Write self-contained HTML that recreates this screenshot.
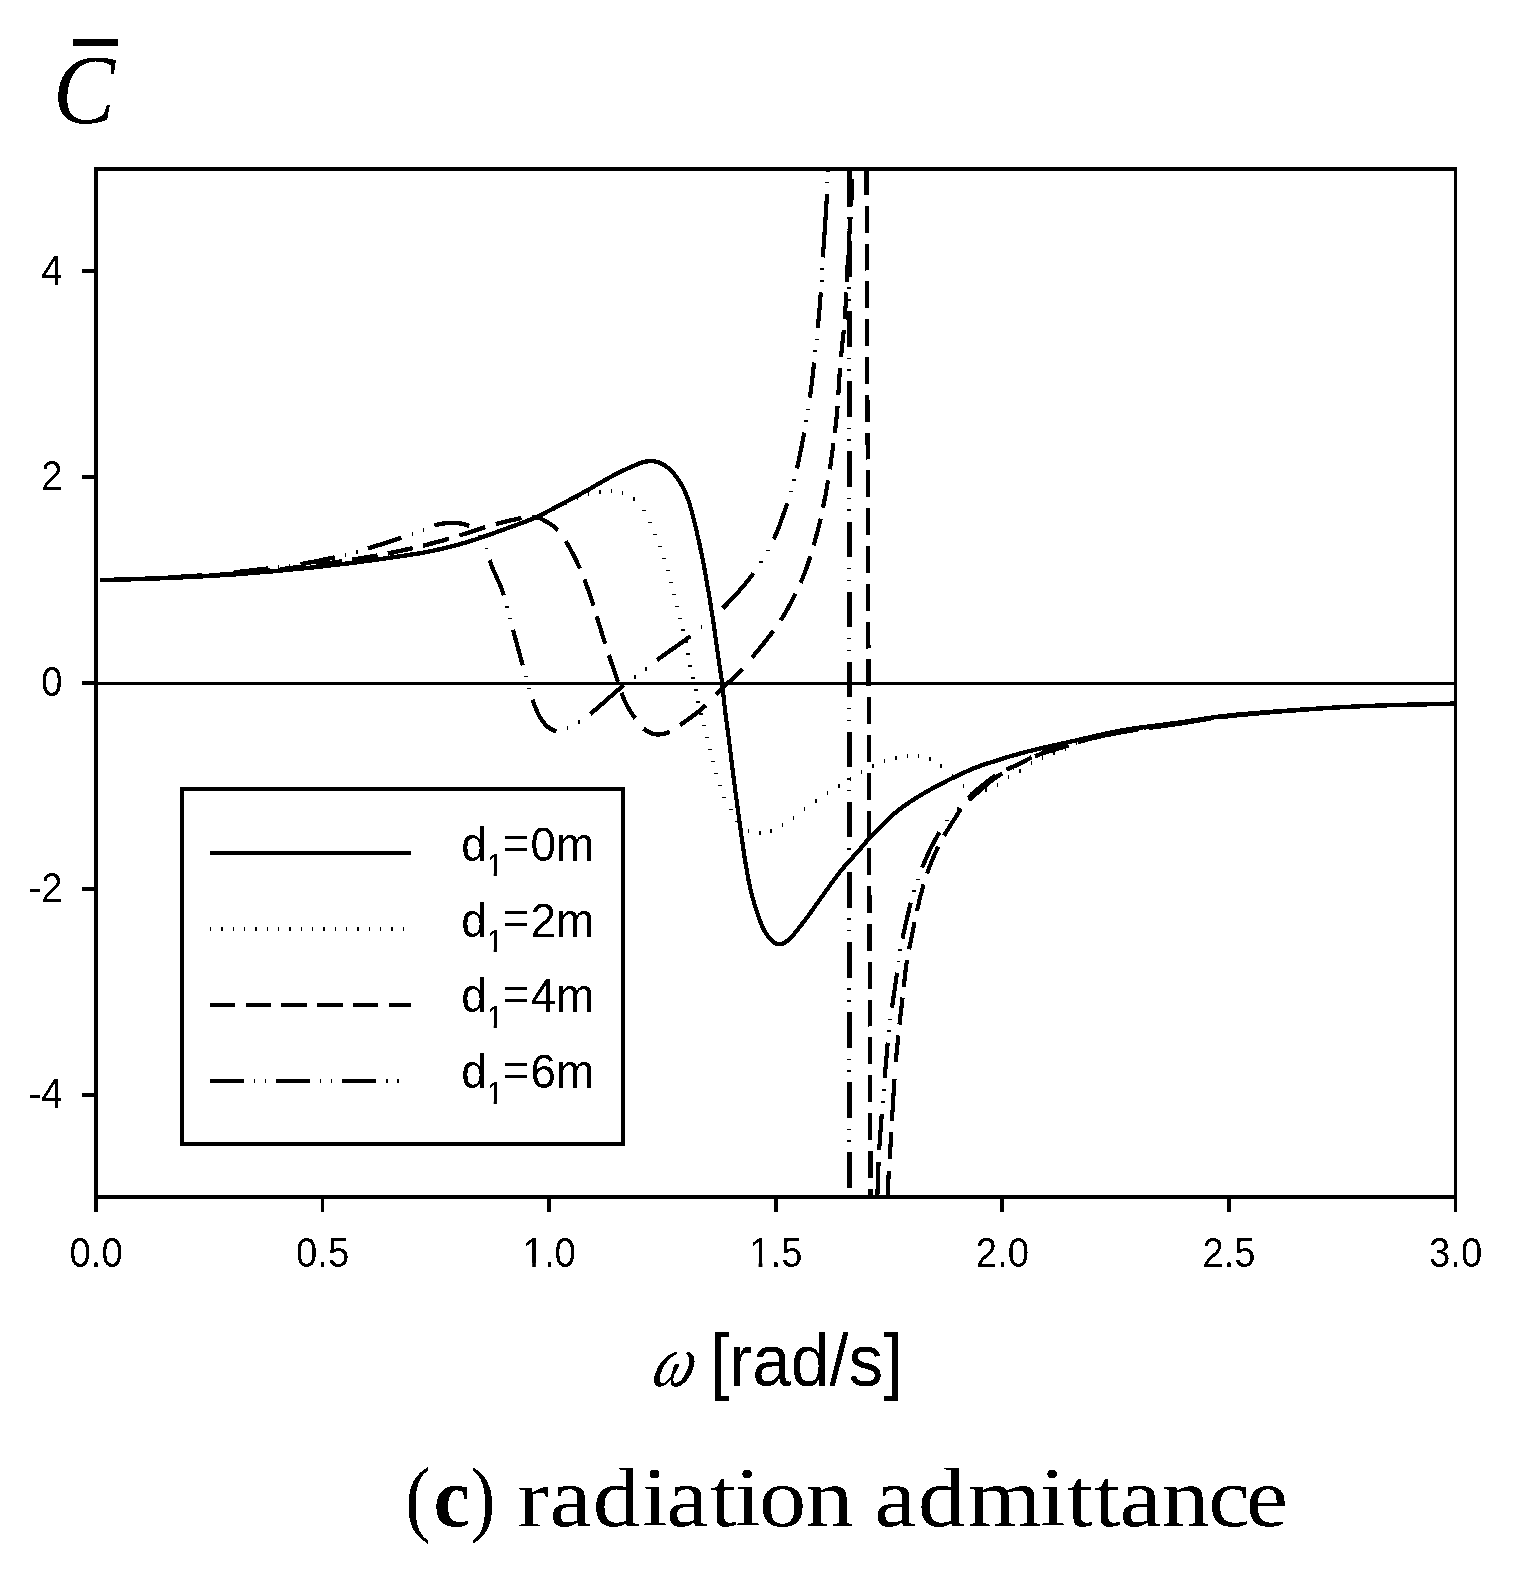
<!DOCTYPE html>
<html lang="en"><head><meta charset="utf-8"><title>(c) radiation admittance</title>
<style>html,body{margin:0;padding:0;background:#fff}svg{display:block}.sans{font-family:"Liberation Sans",Arial,Helvetica,sans-serif}.serif{font-family:"Liberation Serif","Times New Roman",serif}</style></head><body>
<svg width="1528" height="1581" viewBox="0 0 1528 1581">
<rect width="1528" height="1581" fill="#fff"/>
<defs><filter id="bw" x="0" y="0" width="1528" height="1581" filterUnits="userSpaceOnUse" color-interpolation-filters="sRGB"><feComponentTransfer><feFuncA type="discrete" tableValues="0 1"/></feComponentTransfer></filter><clipPath id="plot"><rect x="101.59" y="169.0" width="1438.62" height="1028.0"/></clipPath></defs>
<g filter="url(#bw)">
<g transform="scale(0.945,1)">
<g clip-path="url(#plot)" fill="none" stroke="#000" stroke-width="4.4" stroke-linejoin="round" shape-rendering="crispEdges">
<path d="M105.8 580.2L157.8 578.8L203.8 576.9L245.7 574.6L288.6 571.3L334.4 567.1L376.1 562.5L401.9 559.2L432.6 555.0L446.5 552.9L458.3 550.7L469.1 548.5L480.7 545.7L492.4 542.7L502.9 539.6L518.1 534.7L556.9 521.3L564.4 518.5L575.3 513.6L612.0 495.3L623.5 489.2L643.7 478.2L652.6 473.7L665.4 467.9L675.6 463.8L679.4 462.5L683.3 461.6L686.3 461.1L689.3 461.0L692.3 461.2L695.2 461.9L698.1 462.8L700.9 464.0L703.5 465.5L706.8 467.8L709.9 470.4L712.7 473.3L715.3 476.3L717.8 479.5L720.0 482.8L722.6 487.1L726.1 494.3L729.0 501.7L731.9 511.3L736.1 526.8L740.5 545.2L744.7 564.8L750.4 595.3L754.9 621.9L760.6 660.5L764.1 682.2L767.2 710.0L771.2 738.7L777.2 784.4L784.0 831.9L788.1 858.6L791.9 879.2L794.8 891.9L798.4 904.4L802.9 917.6L806.9 926.9L808.7 930.4L810.8 933.7L813.2 936.9L815.3 939.2L817.6 941.4L820.1 943.1L822.0 943.9L823.9 944.2L826.8 943.9L828.8 943.3L830.6 942.4L832.4 941.3L834.9 939.5L838.5 936.1L846.3 927.0L854.5 916.9L879.8 883.3L886.6 874.7L892.4 867.8L897.1 862.7L908.3 851.2L917.6 840.7L921.7 836.4L939.2 819.9L946.7 813.3L953.9 807.9L963.0 801.8L974.2 795.2L987.4 788.1L1002.7 780.5L1018.1 773.4L1029.2 768.8L1040.5 764.8L1066.4 757.0L1087.7 751.4L1104.2 747.7L1138.5 740.5L1163.9 734.9L1175.6 732.5L1188.4 730.2L1202.3 728.1L1247.0 722.7L1276.7 718.4L1288.5 716.8L1308.4 714.7L1333.4 712.7L1380.3 709.4L1416.2 707.3L1444.2 706.1L1474.2 705.1L1555.6 703.3"/>
<path stroke-width="1.4" d="M106.9 578.2v4M118.9 577.9v4M130.9 577.6v4M142.9 577.3v4M154.9 576.9v4M166.9 576.5v4M178.9 576.0v4M190.9 575.5v4M202.9 575.0v4M214.9 574.4v4M226.9 573.7v4M238.9 573.0v4M250.9 572.2v4M262.9 571.4v4M274.9 570.5v4M286.9 569.5v4M298.9 568.5v4M310.9 567.4v4M322.9 566.3v4M334.9 565.1v4M346.9 563.8v4M358.9 562.5v4M370.9 561.1v4M382.9 559.6v4M394.9 558.1v4M406.9 556.5v4M418.9 554.9v4M430.9 553.2v4M442.9 551.4v4M454.9 549.4v4M466.9 547.0v4M478.9 544.2v4M490.9 541.1v4M502.9 537.6v4M514.9 533.8v4M526.9 529.6v4M538.9 525.4v4M550.9 521.3v4M562.9 517.0v4M574.9 512.0v4M586.9 506.5v4M598.9 501.1v4M610.9 496.3v4M622.9 492.4v4M634.9 489.7v4M646.9 488.9v4M658.9 491.1v4M670.8 497.1v4M678.9 510.7h4.2M686.0 522.6h4.2M691.5 534.5h4.2M696.2 546.4h4.2M700.5 558.4h4.2M704.7 570.3h4.2M707.8 582.3h4.2M711.3 594.2h4.2M714.4 606.2h4.2M717.6 618.2h4.2M721.0 630.1h4.2M723.6 642.1h4.2M725.9 654.1h4.2M728.4 666.0h4.2M731.4 678.0h4.2M734.6 689.9h4.2M736.9 701.8h4.2M739.8 713.8h4.2M742.4 725.7h4.2M745.6 737.6h4.2M748.8 749.5h4.2M752.0 761.5h4.2M755.5 773.5h4.2M759.7 785.5h4.2M764.4 797.5h4.2M771.0 809.6h4.2M778.3 821.6h4.2M792.1 828.7v4M804.1 830.7v4M816.0 828.6v4M827.8 823.0v4M839.7 815.6v4M851.6 807.3v4M863.5 799.0v4M875.6 791.2v4M887.7 783.7v4M899.7 776.8v4M911.8 769.9v4M923.9 764.0v4M936.0 759.1v4M948.1 755.7v4M960.2 753.5v4M972.2 753.7v4M984.1 756.9v4M995.9 764.0v4M1007.7 774.2v4M1019.5 784.3v4M1031.5 789.6v4M1043.4 787.7v4M1055.4 782.7v4M1067.3 774.8v4M1079.3 768.6v4M1091.4 761.4v4M1103.4 756.0v4M1115.5 751.4v4M1127.5 747.2v4M1139.5 741.0v4M1151.5 736.6v4M1163.5 734.3v4M1175.5 732.4v4M1187.5 730.3v4M1199.5 728.2v4M1211.5 726.3v4M1223.5 724.8v4M1235.5 723.4v4M1247.5 721.9v4M1259.5 720.0v4M1271.5 718.0v4M1283.5 716.2v4M1295.5 714.6v4M1307.5 713.4v4M1319.5 712.2v4M1331.5 711.3v4M1343.5 710.3v4M1355.5 709.4v4M1367.5 708.5v4M1379.5 707.7v4M1391.5 706.8v4M1403.5 706.0v4M1415.5 705.4v4M1427.5 704.8v4M1439.5 704.2v4M1451.5 703.8v4M1463.5 703.4v4M1475.5 703.0v4M1487.5 702.7v4M1499.5 702.4v4M1511.5 702.2v4M1523.5 701.9v4M1535.5 701.7v4M1547.5 701.5v4"/>
<path d="M108.0 580.1L134.9 579.4M145.8 579.0L172.7 578.0M183.6 577.5L210.5 576.1M221.4 575.5L248.3 573.6M259.2 572.7L286.1 570.3M297.0 569.2L323.9 566.2M334.8 564.9L361.7 561.4M372.6 559.8L399.5 555.5M410.4 553.5L436.8 548.2M447.6 545.7L462.1 542.2L475.1 538.7M486.2 535.5L513.5 527.2M524.6 524.2L538.2 520.9L551.9 518.0M563.0 516.8L565.8 517.0L568.8 517.6L571.7 518.4L574.4 519.6L579.7 522.5L584.9 525.6L588.1 528.0L590.4 530.1M598.8 541.2L606.4 554.1L610.1 561.2L613.6 568.4M618.4 579.4L623.1 591.5L628.0 605.6M631.4 616.2L640.4 643.9M644.3 655.1L653.9 681.9M657.7 692.8L660.3 699.3L663.5 705.5L666.6 710.6L672.3 718.4M681.0 728.6L684.3 730.9L687.0 732.3L690.8 733.7L693.8 734.3L696.8 734.5L700.8 734.1L704.8 733.2L708.6 731.8M719.7 725.1L736.3 713.8L741.9 709.6L746.9 705.3M757.8 694.4L763.6 688.9L778.6 675.7L785.7 668.9M795.8 657.6L810.2 641.0L818.3 631.1M826.1 620.4L829.9 614.5L834.1 607.7L841.8 593.8M847.2 583.0L852.7 570.1L857.6 556.3M861.1 545.4L864.9 532.0L868.4 518.6M870.9 507.7L873.8 494.0L876.3 480.4M878.2 469.4L882.0 443.3M883.4 432.8L885.2 417.9L886.4 405.9M887.1 395.0L888.9 368.1M889.9 357.2L892.9 330.3M893.9 319.4L895.7 292.5M896.2 281.6L897.4 254.7M898.1 243.8L900.1 216.9M900.8 206.0L901.7 179.1M901.9 168.2L902.3 141.3M902.4 130.4L903.0 103.5"/>
<path d="M916.8 140.0L916.9 157.1M916.9 168.0L917.0 194.9M917.1 205.8L917.2 232.7M917.2 243.6L917.4 270.5M917.4 281.4L917.5 308.3M917.6 319.2L917.7 346.1M917.7 357.0L917.8 383.9M917.9 394.8L918.0 421.7M918.0 432.6L918.2 459.5M918.2 470.4L918.3 497.3M918.4 508.2L918.5 535.1M918.5 546.0L918.6 572.9M918.7 583.8L918.8 610.7M918.8 621.6L919.0 648.5M919.0 659.4L919.1 686.3M919.2 697.2L919.3 724.1M919.3 735.0L919.4 761.9M919.5 772.8L919.6 799.7M919.6 810.6L919.8 837.5M919.8 848.4L919.9 875.3M920.0 886.2L920.1 913.1M920.1 924.0L920.2 950.9M920.3 961.8L920.4 988.7M920.4 999.6L920.6 1026.5M920.6 1037.4L920.7 1064.3M920.8 1075.2L920.9 1102.1M920.9 1113.0L921.0 1139.9M921.1 1150.8L921.2 1177.7M921.2 1188.6L921.3 1215.5M921.4 1226.4L921.4 1230.0"/>
<path d="M941.5 1159.1L943.2 1132.1M943.8 1121.1L946.5 1079.3M947.9 1062.3L950.6 1035.4M951.8 1024.5L955.1 997.6M956.4 986.8L958.2 970.9L959.8 960.0M962.0 949.2L967.9 922.1M970.3 911.1L973.6 897.5L977.4 884.4M981.0 873.6L983.5 867.1L986.6 859.7L992.8 846.6M999.0 835.7L1003.3 829.0L1017.0 808.7M1024.9 797.7L1028.4 794.2L1032.2 791.0L1048.4 778.9L1053.2 775.5M1064.8 769.6L1078.7 764.0L1091.7 757.3M1102.6 752.8L1110.8 750.4L1129.5 745.6M1140.4 742.2L1152.3 739.0L1167.3 735.8M1178.2 733.7L1191.6 731.3L1205.1 729.2M1216.0 727.8L1242.9 724.5M1253.8 722.9L1280.7 718.6M1291.6 717.1L1304.5 715.7L1318.5 714.4M1329.4 713.4L1356.3 711.4M1367.2 710.6L1394.1 708.6M1405.0 708.0L1431.9 706.6M1442.8 706.1L1469.7 705.2M1480.6 704.9L1507.5 704.3M1518.4 704.0L1545.3 703.5"/>
<path d="M939.3 1197L940.5 1171.4"/>
<path d="M107.8 580.1L143.3 579.0M177.9 577.5L213.4 575.4M248.0 572.4L283.5 568.5M318.1 564.1L335.8 561.1L354.2 557.3M389.3 548.3L408.6 542.9L424.9 537.8M459.7 525.4L464.5 524.2L469.4 523.4L474.4 522.9L479.4 522.8L484.4 523.1L489.4 523.8L493.3 524.8L496.4 526.1M518.3 560.1L521.0 567.6L529.5 585.7L533.2 595.3M542.8 629.7L553.1 665.2M563.5 699.7L566.0 706.3L568.9 712.6L571.8 717.9L574.7 721.9L578.2 725.6L581.4 728.2L585.0 730.1L586.9 730.7L588.9 731.0M624.6 714.1L633.2 707.2L651.6 691.9L660.4 685.0M695.2 660.1L703.5 654.4L722.7 641.7L730.5 636.2M764.9 608.2L773.6 599.9L782.6 590.5L790.6 581.6L797.3 573.4M818.7 539.1L821.8 532.8L824.9 525.5L833.1 503.3M843.4 468.4L848.0 447.9L851.1 432.6M857.0 397.7L859.1 382.9L861.5 362.5M865.3 328.2L867.2 309.3L868.6 292.4M870.8 257.4L874.2 209.6L875.1 193.7"/><path stroke-width="1.4" d="M154.8 576.5v4M166.5 576.1v4M224.9 572.5v4M236.6 571.5v4M295.0 565.1v4M306.7 563.7v4M365.9 552.5v4M377.7 549.5v4M436.5 531.9v4M448.2 527.6v4M505.6 536.1h4.2M512.7 548.2h4.2M534.5 606.8h4.2M537.5 618.4h4.2M554.4 676.6h4.2M557.9 688.3h4.2M600.7 726.4v4M612.8 720.4v4M671.9 674.6v4M683.7 666.6v4M742.0 625.3v4M753.6 615.9v4M803.2 562.0h4.2M810.1 550.4h4.2M835.2 491.7h4.2M838.5 479.9h4.2M851.1 421.0h4.2M853.0 409.2h4.2M860.7 351.1h4.2M862.0 339.5h4.2M867.3 280.8h4.2M868.0 268.9h4.2M873.4 182.6h4.2M873.6 171.1h4.2"/>
<path d="M898.9 171.0L898.9 206.5M898.9 241.1L898.9 276.6M898.9 311.2L898.9 346.7M898.9 381.3L898.9 416.8M898.9 451.4L898.9 486.9M898.9 521.5L898.9 557.0M898.9 591.6L898.9 627.1M898.9 661.7L898.9 697.2M898.9 731.8L898.9 767.3M898.9 801.9L898.9 837.4M898.9 872.0L898.9 907.5M898.9 942.1L898.9 977.6M898.9 1012.2L898.9 1047.7M898.9 1082.3L898.9 1117.8M898.9 1152.4L898.9 1187.6"/><path stroke-width="1.4" d="M896.8 218.0h4.2M896.8 229.7h4.2M896.8 288.1h4.2M896.8 299.8h4.2M896.8 358.2h4.2M896.8 369.9h4.2M896.8 428.3h4.2M896.8 440.0h4.2M896.8 498.4h4.2M896.8 510.1h4.2M896.8 568.5h4.2M896.8 580.2h4.2M896.8 638.6h4.2M896.8 650.3h4.2M896.8 708.7h4.2M896.8 720.4h4.2M896.8 778.8h4.2M896.8 790.5h4.2M896.8 848.9h4.2M896.8 860.6h4.2M896.8 919.0h4.2M896.8 930.7h4.2M896.8 989.1h4.2M896.8 1000.8h4.2M896.8 1059.2h4.2M896.8 1070.9h4.2M896.8 1129.3h4.2M896.8 1141.0h4.2"/>
<path d="M930.3 1150.0L933.1 1113.7M936.1 1078.3L939.4 1042.6M943.9 1007.7L949.3 972.7M955.0 938.6L960.0 917.2L963.8 902.7M975.8 867.7L979.8 858.5L984.2 849.5L989.0 840.8L994.2 832.2M1025.2 800.1L1049.4 780.5L1055.2 776.5L1060.7 773.3M1095.3 756.4L1100.9 754.1L1106.6 752.3L1130.8 745.5M1165.4 736.1L1184.2 732.6L1200.9 729.9M1235.5 725.4L1250.5 723.4L1271.0 720.1M1305.6 715.6L1341.1 712.5M1375.7 709.9L1411.2 707.6M1445.8 706.0L1481.3 704.9M1515.9 704.1L1551.4 703.4"/><path stroke-width="1.4" d="M932.0 1101.9h4.2M933.0 1090.0h4.2M938.6 1031.0h4.2M940.1 1019.2h4.2M948.7 961.4h4.2M950.5 949.9h4.2M965.2 891.1h4.2M969.2 879.2h4.2M1000.4 820.7h4.2M1013.8 807.4v4M1072.2 766.1v4M1083.9 760.3v4M1142.3 739.7v4M1154.0 736.5v4M1212.4 726.2v4M1224.1 724.8v4M1282.5 716.3v4M1294.2 714.8v4M1352.6 709.7v4M1364.3 708.8v4M1422.7 705.0v4M1434.4 704.4v4M1492.8 702.6v4M1504.5 702.3v4"/>
<path d="M928.4 1197L929.7 1162"/>
</g>
<g fill="none" stroke="#000" shape-rendering="crispEdges">
<line x1="101.59" y1="683.6" x2="1540.21" y2="683.6" stroke-width="3"/>
<rect x="101.59" y="169.0" width="1438.62" height="1028.0" stroke-width="4"/>
<line x1="86.77" y1="271.4" x2="101.59" y2="271.4" stroke-width="4"/>
<line x1="86.77" y1="477.2" x2="101.59" y2="477.2" stroke-width="4"/>
<line x1="86.77" y1="683.0" x2="101.59" y2="683.0" stroke-width="4"/>
<line x1="86.77" y1="888.8" x2="101.59" y2="888.8" stroke-width="4"/>
<line x1="86.77" y1="1094.6" x2="101.59" y2="1094.6" stroke-width="4"/>
<line x1="101.59" y1="1197.0" x2="101.59" y2="1212.0" stroke-width="4"/>
<line x1="341.36" y1="1197.0" x2="341.36" y2="1212.0" stroke-width="4"/>
<line x1="581.13" y1="1197.0" x2="581.13" y2="1212.0" stroke-width="4"/>
<line x1="820.90" y1="1197.0" x2="820.90" y2="1212.0" stroke-width="4"/>
<line x1="1060.67" y1="1197.0" x2="1060.67" y2="1212.0" stroke-width="4"/>
<line x1="1300.44" y1="1197.0" x2="1300.44" y2="1212.0" stroke-width="4"/>
<line x1="1540.21" y1="1197.0" x2="1540.21" y2="1212.0" stroke-width="4"/>
<rect x="192.59" y="788.5" width="466.56" height="355.5" stroke-width="4"/>
</g>
<g fill="none" stroke="#000" stroke-width="4">
<line x1="222.22" y1="853" x2="434.92" y2="853"/>
<line x1="222.22" y1="929" x2="434.92" y2="929" stroke-dasharray="1.4 10.6"/>
<line x1="222.22" y1="1005" x2="434.92" y2="1005" stroke-dasharray="26.9 10.9"/>
<line x1="222.22" y1="1081" x2="431.75" y2="1081" stroke-dasharray="35.5 10.8 1.4 10.3 1.4 10.7"/>
</g>
<g class="sans" fill="#000">
<text x="488.04" y="860.7" font-size="48.5">d<tspan font-size="31.4" dy="15.8">1</tspan><tspan dx="-1" dy="-17.9">=</tspan><tspan dx="1.6" dy="2.1">0m</tspan></text>
<text x="488.04" y="936.6" font-size="48.5">d<tspan font-size="31.4" dy="15.8">1</tspan><tspan dx="-1" dy="-17.9">=</tspan><tspan dx="1.6" dy="2.1">2m</tspan></text>
<text x="488.04" y="1012.5" font-size="48.5">d<tspan font-size="31.4" dy="15.8">1</tspan><tspan dx="-1" dy="-17.9">=</tspan><tspan dx="1.6" dy="2.1">4m</tspan></text>
<text x="488.04" y="1088.4" font-size="48.5">d<tspan font-size="31.4" dy="15.8">1</tspan><tspan dx="-1" dy="-17.9">=</tspan><tspan dx="1.6" dy="2.1">6m</tspan></text>
<g transform="scale(0.969,1)" font-size="41.8">
<text x="68.36" y="284.6" text-anchor="end">4</text>
<text x="68.36" y="490.4" text-anchor="end">2</text>
<text x="68.36" y="696.2" text-anchor="end">0</text>
<text x="68.36" y="902.0" text-anchor="end">-2</text>
<text x="68.36" y="1107.8" text-anchor="end">-4</text>
<text x="104.95" y="1267" text-anchor="middle">0.0</text>
<text x="352.39" y="1267" text-anchor="middle">0.5</text>
<text x="599.83" y="1267" text-anchor="middle">1.0</text>
<text x="847.27" y="1267" text-anchor="middle">1.5</text>
<text x="1094.71" y="1267" text-anchor="middle">2.0</text>
<text x="1342.15" y="1267" text-anchor="middle">2.5</text>
<text x="1589.59" y="1267" text-anchor="middle">3.0</text>
</g>
<text x="751.32" y="1386" font-size="73.3">[rad/s]</text>
</g>
<g class="serif" fill="#000" font-style="italic">
<text transform="translate(685.19,1386.3) skewX(-24) scale(0.863,0.967)" font-size="76" font-style="normal">ω</text>
<text x="56.08" y="123.4" font-size="98.5">C</text>
</g>
<rect x="77.25" y="39" width="47.62" height="7" fill="#000" shape-rendering="crispEdges"/>
</g>
<g fill="#fff">
<rect x="487.5" y="873.0" width="6.2" height="3.8"/><rect x="496.95" y="873.0" width="6" height="3.8"/>
<rect x="487.5" y="948.9" width="6.2" height="3.8"/><rect x="496.95" y="948.9" width="6" height="3.8"/>
<rect x="487.5" y="1024.8" width="6.2" height="3.8"/><rect x="496.95" y="1024.8" width="6" height="3.8"/>
<rect x="487.5" y="1100.7" width="6.2" height="3.8"/><rect x="496.95" y="1100.7" width="6" height="3.8"/>
<rect x="524.5" y="1262.9" width="7.7" height="4.8"/><rect x="535.85" y="1262.9" width="7.5" height="4.8"/>
<rect x="751" y="1262.9" width="7.6" height="4.8"/><rect x="762.4" y="1262.9" width="7.5" height="4.8"/>
</g>
<g class="serif" fill="#000" font-size="90">
<text transform="translate(405.3,1526.4) scale(0.84,0.945)">(</text>
<text transform="translate(433.5,1526.2) scale(0.92,0.95)" font-weight="bold">c</text>
<text transform="translate(470.3,1526.4) scale(0.84,0.945)">)</text>
<text transform="translate(0,1526) scale(1.125,1)" font-size="84" x="459.9 488.4 527.0 570.6 592.3 631.1 653.2 674.7 716.4">radiation</text>
<text transform="translate(0,1526) scale(1.125,1)" font-size="84" x="777.2 816.0 860.4 924.3 948.3 972.4 995.1 1032.8 1074.0 1107.6">admittance</text>
</g>
</g>
</svg></body></html>
